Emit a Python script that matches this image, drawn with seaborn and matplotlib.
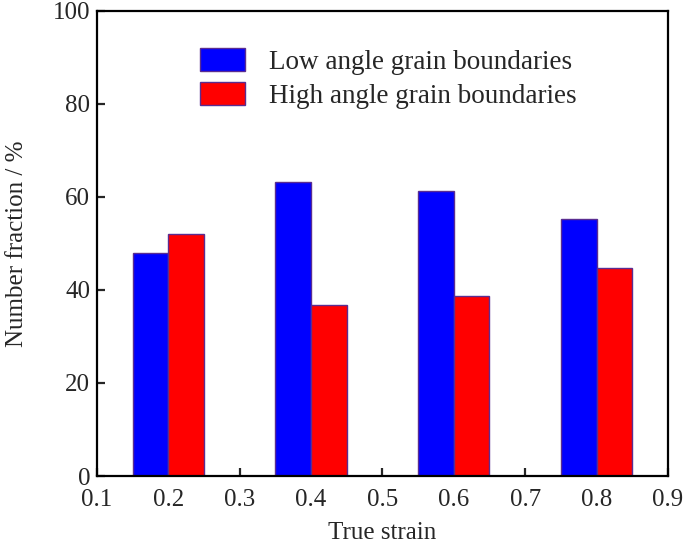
import matplotlib
matplotlib.use("Agg")
import matplotlib.pyplot as plt
import pandas as pd
import seaborn as sns

strain = [0.2, 0.4, 0.6, 0.8]
low_angle = [48.0, 63.2, 61.2, 55.2]
high_angle = [52.0, 36.8, 38.8, 44.8]
series = ["Low angle grain boundaries", "High angle grain boundaries"]

df = pd.DataFrame({
    "strain": strain * 2,
    "fraction": low_angle + high_angle,
    "type": [series[0]] * len(strain) + [series[1]] * len(strain),
})

sns.set_theme(style="ticks")
plt.rcParams["font.family"] = ["Liberation Serif", "DejaVu Serif"]

fig = plt.figure(figsize=(6.85, 5.45), dpi=100)
ax = fig.add_axes([0.1416, 0.1266, 0.8334, 0.8534])

sns.barplot(data=df, x="strain", y="fraction", hue="type", native_scale=True,
            palette=["#0000ff", "#ff0000"], saturation=1, width=0.5, gap=0,
            edgecolor="#5a2d91", linewidth=1.0, ax=ax, legend=True)

ax.set_xlim(0.1, 0.9)
ax.set_ylim(0, 100)
ax.set_xticks([0.1, 0.2, 0.3, 0.4, 0.5, 0.6, 0.7, 0.8, 0.9])
ax.set_xticklabels(["0.1", "0.2", "0.3", "0.4", "0.5", "0.6", "0.7", "0.8", "0.9"])
ax.set_yticks([0, 20, 40, 60, 80, 100])
ax.tick_params(direction="in", length=6, width=1.6, labelsize=18)
ax.tick_params(axis="x", pad=9)
ax.tick_params(axis="y", pad=5)
for s in ax.spines.values():
    s.set_linewidth(1.6)
    s.set_color("black")
ax.set_xlabel("True strain", fontsize=18, labelpad=8)
ax.set_ylabel("Number fraction / %", fontsize=18, labelpad=18)

leg = ax.legend(loc="upper left", bbox_to_anchor=(0.137, 0.972), frameon=False,
                fontsize=19.5, handlelength=1.66, handleheight=0.9,
                handletextpad=0.92, labelspacing=0.28)

fig.savefig("out.png", dpi=100)
